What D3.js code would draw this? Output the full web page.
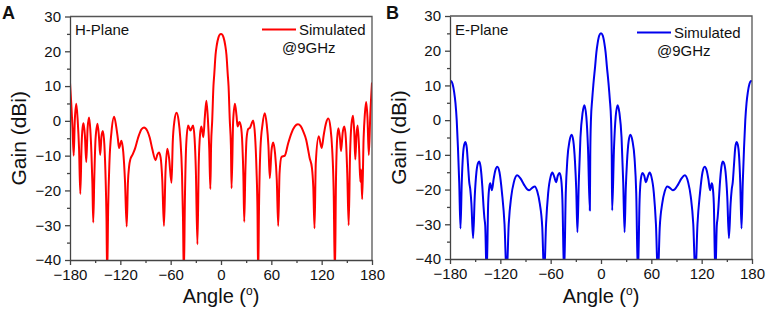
<!DOCTYPE html>
<html>
<head>
<meta charset="utf-8">
<script src="https://cdn.jsdelivr.net/npm/d3@7"></script>
<style>
body { margin: 0; background: #fff; }
text { font-family: Arial, "Liberation Sans", sans-serif; fill: #111; }
</style>
</head>
<body>
<svg id="chart" width="768" height="311"></svg>
<script>
// tick values
const xTicks = [-180, -120, -60, 0, 60, 120, 180];
const xMinor = [-150, -90, -30, 30, 90, 150];
const yTicks = [-40, -30, -20, -10, 0, 10, 20, 30];
const yMinor = [-35, -25, -15, -5, 5, 15, 25];

// H-plane, [angle (deg), gain (dBi)]
const hPlane = [
  [-180, 11], [-178.5, 5], [-177, -2], [-175.6, -10], [-174.3, 0], [-172.5, 4.9],
  [-170.8, 0], [-169.2, -8], [-167.7, -21], [-166.2, -7], [-165, -2], [-163.8, -0.7],
  [-162.3, -4], [-160.6, -11.8], [-159, -2], [-157.3, 1], [-155.8, -2.5], [-154.5, -9],
  [-153.3, -18], [-152.3, -29.2], [-151, -16], [-149.5, -5], [-147.2, -0.8], [-145.5, -4.5],
  [-144, -9.8], [-142.5, -4.5], [-140.8, -2.9], [-139, -7], [-137.5, -17], [-136.5, -28],
  [-135.7, -45], [-134.5, -25], [-133, -12], [-130.5, -3], [-127.4, 1.2], [-125, -1.5],
  [-123, -5], [-121.5, -7.8], [-118.7, -5.7], [-116.5, -9], [-114.5, -17], [-112.4, -30.4],
  [-111, -18], [-109.5, -13], [-108, -11], [-105.6, -9.8], [-102.5, -8], [-99, -5],
  [-95, -2.5], [-91.8, -1.9], [-88, -2.8], [-85, -4.8], [-82, -8], [-78, -11.3],
  [-76, -9.8], [-74, -9.1], [-72, -10.5], [-70, -17], [-68, -30.2], [-66.2, -15],
  [-64, -8], [-62, -10.5], [-59, -17.8], [-57.5, -6], [-55.5, 0], [-53, 2.3],
  [-50.5, 0], [-48.5, -5], [-46.5, -15], [-45.3, -28], [-44.3, -45], [-43, -22],
  [-41.5, -7], [-39.2, -1.3], [-36.4, -2.8], [-33.3, -1.3], [-31.5, -5], [-30, -14],
  [-28.1, -35.5], [-26.5, -12], [-25, -4], [-23.4, -1.6], [-21, -4.7], [-19.3, 1],
  [-17.4, 5.8], [-15.5, 0], [-14, -8], [-12.7, -19.6], [-11.8, -7], [-10.5, 0],
  [-9, 10], [-8, 13.5], [-6.5, 19], [-5, 21.8], [-3, 24], [-1.5, 24.8], [0, 25],
  [1.5, 24.8], [3, 24], [5, 21.8], [6.5, 19], [8, 13.5], [9, 10], [10.5, 0],
  [11.8, -7], [12.6, -19.4], [14.5, 0], [16.6, 4.9], [18.5, 1.5], [19.8, -1.6],
  [21.8, -0.3], [23.8, -1.6], [25.5, -7], [26.7, -16], [27.7, -29], [29, -15],
  [30.5, -5], [32.5, -2.3], [34.5, -2], [36.5, -0.8], [38.3, 0.1], [40.5, -4],
  [42.3, -14], [43.5, -26], [44.3, -45], [45.3, -25], [47, -8], [49.5, -1],
  [52.2, 2.2], [54.5, -1], [56.5, -7], [58.2, -16.5], [60.2, -8.5], [62.2, -6.2],
  [64.5, -9.5], [66.5, -17], [68.2, -30.2], [69.8, -15], [72.1, -10.4], [76.1, -10],
  [80, -6.5], [84, -3.5], [88, -1.6], [91.7, -1], [95, -1.5], [98, -3],
  [101.6, -5.5], [104, -8.5], [105.6, -10.6], [108.4, -13.5], [110, -19], [111.5, -30.9],
  [113, -12], [116.5, -4.4], [120, -7.8], [122.5, -4], [125, -0.8], [128, 0.7],
  [130.5, -2], [132.5, -8], [134.3, -20], [135.8, -45], [137, -18], [138.5, -5],
  [140, -2.1], [141.8, -5], [143.1, -8.7], [145, -3.5], [147, -1.6], [148.8, -5],
  [150.5, -15], [152.2, -30], [153.8, -10], [155.5, -1], [157.4, 1.5], [158.8, -3],
  [160.1, -11.1], [161.5, -4], [162.9, -1.3], [164.6, -8], [166.1, -17.5], [167, -14],
  [168.3, -22.5], [170, -5], [171.5, 2], [173, 5.4], [174.6, 1], [176.2, -9.8],
  [178, 2], [180, 11]
];

// E-plane, [angle (deg), gain (dBi)]
const ePlane = [
  [-180, 11.2], [-178.5, 11.3], [-177, 10.5], [-175, 8], [-173.5, 5], [-172, 0],
  [-170.5, -8], [-169, -18], [-167.5, -31.2], [-166, -18], [-164.5, -10], [-163, -7],
  [-161.6, -6.3], [-160, -8], [-158.5, -13], [-157, -18], [-155.8, -20], [-154.5, -24],
  [-152.5, -34], [-150.5, -22], [-148.5, -15], [-146.5, -12.3], [-145.1, -11.9], [-143.5, -13.5],
  [-141.5, -19], [-140, -25], [-139, -28.2], [-138, -30.5], [-136.3, -45], [-134.5, -24],
  [-133, -19], [-132, -18.2], [-130, -20.2], [-128, -17], [-126, -14.5], [-123.6, -13.4],
  [-121, -15], [-118, -21], [-115, -30], [-112.5, -45], [-110, -30], [-107, -22],
  [-104, -18], [-100, -15.9], [-96, -16.8], [-92, -18.5], [-88, -19.9], [-85.6, -20.2],
  [-82, -19.5], [-79, -19.1], [-76, -20.5], [-73, -24], [-70, -31], [-67.8, -45],
  [-65.5, -30], [-63, -21], [-60, -16.2], [-58, -15.1], [-55.5, -16.5], [-53.6, -17.9],
  [-51.5, -16], [-49.4, -15.2], [-47.5, -17], [-46, -23], [-44, -45], [-42, -21],
  [-40, -11], [-37.5, -6], [-35, -4.2], [-33, -6], [-31, -12], [-29.5, -20],
  [-28.1, -32.3], [-26.5, -18], [-24.5, -5], [-22, 2], [-19.8, 4.3], [-17.5, 1],
  [-15.5, -8], [-13.3, -26], [-12.8, -10], [-12, 0], [-10.5, 6], [-9, 10.5],
  [-7, 15.5], [-5.5, 19.5], [-4, 22.2], [-2, 24.4], [0, 25],
  [2, 24.4], [4, 22.2], [5.5, 19.5], [7, 15.5], [9, 10.5], [10.5, 6],
  [12, 0], [12.8, -10], [13.3, -26], [15.5, -8], [17.5, 1], [19.8, 4.3],
  [22, 2], [24.5, -5], [26.5, -18], [28.1, -32.3], [29.5, -20], [31, -12],
  [33, -6], [35, -4.2], [37.5, -6], [40, -11], [42, -21], [44, -45],
  [46, -23], [47.5, -17], [49.4, -15.2], [51.5, -16], [53.6, -17.9], [55.5, -16.5],
  [58, -15.1], [60, -16.2], [63, -21], [65.5, -30], [67.8, -45], [70, -31],
  [73, -24], [76, -20.5], [79, -19.1], [82, -19.5], [85.6, -20.2], [88, -19.9],
  [92, -18.5], [96, -16.8], [100, -15.9], [104, -18], [107, -22], [110, -30],
  [112.5, -45], [115, -30], [118, -21], [121, -15], [123.6, -13.4], [126, -14.5],
  [128, -17], [130, -20.2], [132, -18.2], [133, -19], [134.5, -24], [136.3, -45],
  [138, -30.5], [139, -28.2], [140, -25], [141.5, -19], [143.5, -13.5], [145.1, -11.9],
  [146.5, -12.3], [148.5, -15], [150.5, -22], [152.5, -34], [154.5, -24], [155.8, -20],
  [157, -18], [158.5, -13], [160, -8], [161.6, -6.3], [163, -7], [164.5, -10],
  [166, -18], [167.5, -31.2], [169, -18], [170.5, -8], [172, 0], [173.5, 5],
  [175, 8], [177, 10.5], [178.5, 11.3], [180, 11.2]
];

const svg = d3.select("#chart");

function drawPanel(cfg) {
  const x = d3.scaleLinear().domain([-180, 180]).range([cfg.left, cfg.right]);
  const y = d3.scaleLinear().domain([-40, 30]).range([cfg.bottom, cfg.top]);
  const g = svg.append("g");

  g.append("clipPath").attr("id", cfg.id + "-clip")
    .append("rect")
    .attr("x", cfg.left).attr("y", cfg.top)
    .attr("width", cfg.right - cfg.left).attr("height", cfg.bottom - cfg.top);

  const line = d3.line()
    .x(d => x(d[0]))
    .y(d => y(d[1]))
    .curve(d3.curveMonotoneX);

  g.append("path")
    .datum(cfg.data)
    .attr("clip-path", `url(#${cfg.id}-clip)`)
    .attr("fill", "none")
    .attr("stroke", cfg.color)
    .attr("stroke-width", 2)
    .attr("stroke-linejoin", "round")
    .attr("d", line);

  // frame top/right
  g.append("path")
    .attr("d", `M${cfg.left},${cfg.top}H${cfg.right}V${cfg.bottom}`)
    .attr("fill", "none").attr("stroke", "#555").attr("stroke-width", 1.3);

  g.append("g").attr("transform", `translate(0,${cfg.bottom})`)
    .call(d3.axisBottom(x).tickValues(xTicks).tickSize(5).tickSizeOuter(0).tickPadding(4));
  g.append("g").attr("transform", `translate(0,${cfg.bottom})`)
    .call(d3.axisBottom(x).tickValues(xMinor).tickSize(3).tickFormat(""))
    .call(a => a.select(".domain").remove());

  g.append("g").attr("transform", `translate(${cfg.left},0)`)
    .call(d3.axisLeft(y).tickValues(yTicks).tickSize(5).tickSizeOuter(0).tickPadding(4));
  g.append("g").attr("transform", `translate(${cfg.left},0)`)
    .call(d3.axisLeft(y).tickValues(yMinor).tickSize(3).tickFormat(""))
    .call(a => a.select(".domain").remove());

  g.selectAll(".domain, .tick line").attr("stroke", "#444").attr("stroke-width", 1.3);
  g.selectAll(".tick text").attr("font-size", 15).attr("fill", "#111")
    .style("font-family", "Arial, 'Liberation Sans', sans-serif");

  // axis titles
  g.append("text")
    .attr("transform", `translate(${cfg.left - 44},${(cfg.top + cfg.bottom) / 2}) rotate(-90)`)
    .attr("text-anchor", "middle")
    .attr("font-size", 21)
    .text("Gain (dBi)");

  const xt = g.append("text")
    .attr("x", (cfg.left + cfg.right) / 2).attr("y", 303)
    .attr("text-anchor", "middle")
    .attr("font-size", 20);
  xt.append("tspan").text("Angle (");
  xt.append("tspan").attr("font-size", 12).attr("dy", -8).text("o");
  xt.append("tspan").attr("dy", 8).text(")");

  // panel letter
  g.append("text").attr("x", cfg.letterX).attr("y", 19)
    .attr("font-size", 18).attr("font-weight", "bold").text(cfg.letter);

  // plane label
  g.append("text").attr("x", cfg.left + 5).attr("y", 35)
    .attr("font-size", 15).text(cfg.plane);

  // legend
  const lx = cfg.right - cfg.legendOff;
  g.append("line")
    .attr("x1", lx).attr("x2", lx + 34)
    .attr("y1", cfg.legendY).attr("y2", cfg.legendY)
    .attr("stroke", cfg.color).attr("stroke-width", 2);
  g.append("text").attr("x", lx + 37).attr("y", cfg.legendY + 5)
    .attr("font-size", 15).text("Simulated");
  g.append("text").attr("x", lx + 20).attr("y", cfg.legendY + 23)
    .attr("font-size", 15).text("@9GHz");
}

drawPanel({ id: "a", data: hPlane, color: "#ff0000", left: 70, right: 372, top: 16.5, bottom: 260,
  letter: "A", letterX: 2, plane: "H-Plane", legendY: 29.5, legendOff: 110 });
drawPanel({ id: "b", data: ePlane, color: "#0000ee", left: 450, right: 752, top: 16, bottom: 259,
  letter: "B", letterX: 386, plane: "E-Plane", legendY: 32.5, legendOff: 115 });
</script>
</body>
</html>
